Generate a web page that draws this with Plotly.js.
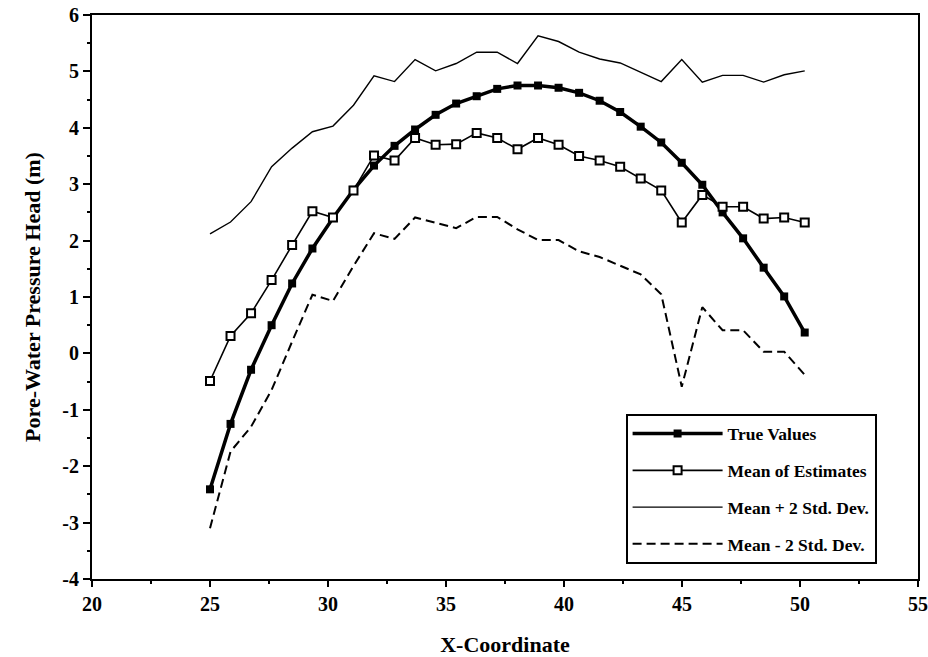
<!DOCTYPE html>
<html>
<head>
<meta charset="utf-8">
<script src="https://cdn.plot.ly/plotly-3.0.1.min.js"></script>
<style>html,body{margin:0;padding:0;background:#fff;}#chart{width:928px;height:657px;}</style>
</head>
<body>
<div id="chart"></div>
<script>
const xCoord = [25.0, 25.87, 26.74, 27.61, 28.48, 29.34, 30.21, 31.08, 31.95, 32.82,
  33.69, 34.56, 35.43, 36.30, 37.17, 38.03, 38.90, 39.77, 40.64, 41.51,
  42.38, 43.25, 44.12, 44.99, 45.86, 46.72, 47.59, 48.46, 49.33, 50.20];
const trueValues = [-2.41, -1.25, -0.29, 0.50, 1.24, 1.86, 2.40, 2.90, 3.33, 3.68,
  3.97, 4.23, 4.43, 4.56, 4.69, 4.75, 4.75, 4.71, 4.62, 4.48,
  4.28, 4.02, 3.74, 3.38, 2.99, 2.50, 2.04, 1.52, 1.01, 0.37];
const meanEstimates = [-0.49, 0.31, 0.71, 1.30, 1.92, 2.52, 2.41, 2.89, 3.51, 3.42,
  3.82, 3.70, 3.71, 3.91, 3.82, 3.62, 3.82, 3.70, 3.50, 3.42,
  3.31, 3.10, 2.89, 2.32, 2.81, 2.60, 2.60, 2.39, 2.41, 2.32];
const meanPlus2SD = [2.12, 2.33, 2.69, 3.31, 3.64, 3.93, 4.03, 4.40, 4.92, 4.82,
  5.21, 5.01, 5.14, 5.34, 5.34, 5.14, 5.63, 5.53, 5.34, 5.22,
  5.15, 4.98, 4.82, 5.21, 4.81, 4.93, 4.93, 4.81, 4.94, 5.01];
const meanMinus2SD = [-3.10, -1.74, -1.30, -0.65, 0.21, 1.04, 0.93, 1.55, 2.13, 2.03,
  2.41, 2.31, 2.22, 2.42, 2.42, 2.20, 2.01, 2.01, 1.81, 1.71,
  1.55, 1.40, 1.05, -0.59, 0.82, 0.41, 0.41, 0.03, 0.03, -0.38];
const seriesNames = ['True Values', 'Mean of Estimates', 'Mean + 2 Std. Dev.', 'Mean - 2 Std. Dev.'];
const xTicks = [20, 25, 30, 35, 40, 45, 50, 55];
const yTicks = [-4, -3, -2, -1, 0, 1, 2, 3, 4, 5, 6];

const font = {family: 'Liberation Serif, Times New Roman, serif', color: '#000', weight: 'bold'};

const traces = [
  {x: xCoord, y: trueValues, name: seriesNames[0], mode: 'lines+markers', legendgroup: 'a',
   line: {color: '#000', width: 3.5}, marker: {symbol: 'square', size: 8, color: '#000'}},
  {x: xCoord, y: meanEstimates, name: seriesNames[1], mode: 'lines+markers', legendgroup: 'b',
   line: {color: '#000', width: 1.6}, marker: {symbol: 'square', size: 8, color: '#fff', line: {color: '#000', width: 2}}},
  {x: xCoord, y: meanPlus2SD, name: seriesNames[2], mode: 'lines', legendgroup: 'c',
   line: {color: '#000', width: 1.4}},
  {x: xCoord, y: meanMinus2SD, name: seriesNames[3], mode: 'lines', legendgroup: 'd',
   line: {color: '#000', width: 2, dash: '9px,5px'}}
];

const layout = {
  width: 928, height: 657,
  margin: {l: 92, r: 10, t: 15, b: 78},
  paper_bgcolor: '#fff', plot_bgcolor: '#fff',
  font: Object.assign({size: 20}, font),
  showlegend: true,
  legend: {
    x: 0.646, y: 0.293, xanchor: 'left', yanchor: 'top',
    bgcolor: '#fff', bordercolor: '#000', borderwidth: 2,
    font: Object.assign({size: 17.5}, font),
    itemwidth: 90, traceorder: 'grouped', tracegroupgap: 11
  },
  xaxis: {
    range: [20, 55], tickvals: xTicks, ticktext: xTicks.map(String),
    ticks: 'outside', ticklen: 6, tickwidth: 2, tickcolor: '#000',
    minor: {dtick: 2.5, ticks: 'outside', ticklen: 3, tickwidth: 2, tickcolor: '#000'},
    showline: true, linecolor: '#000', linewidth: 2, mirror: true,
    showgrid: false, zeroline: false,
    tickfont: Object.assign({size: 20}, font),
    title: {text: 'X-Coordinate', font: Object.assign({size: 22}, font), standoff: 24}
  },
  yaxis: {
    range: [-4, 6], tickvals: yTicks, ticktext: yTicks.map(String),
    ticks: 'outside', ticklen: 7, tickwidth: 2, tickcolor: '#000',
    minor: {dtick: 0.5, ticks: 'outside', ticklen: 3, tickwidth: 2, tickcolor: '#000'},
    showline: true, linecolor: '#000', linewidth: 2, mirror: true,
    showgrid: false, zeroline: false,
    tickfont: Object.assign({size: 20}, font),
    title: {text: 'Pore-Water Pressure Head (m)', font: Object.assign({size: 22}, font), standoff: 16}
  }
};

Plotly.newPlot('chart', traces, layout, {displayModeBar: false, staticPlot: true});
</script>
</body>
</html>
